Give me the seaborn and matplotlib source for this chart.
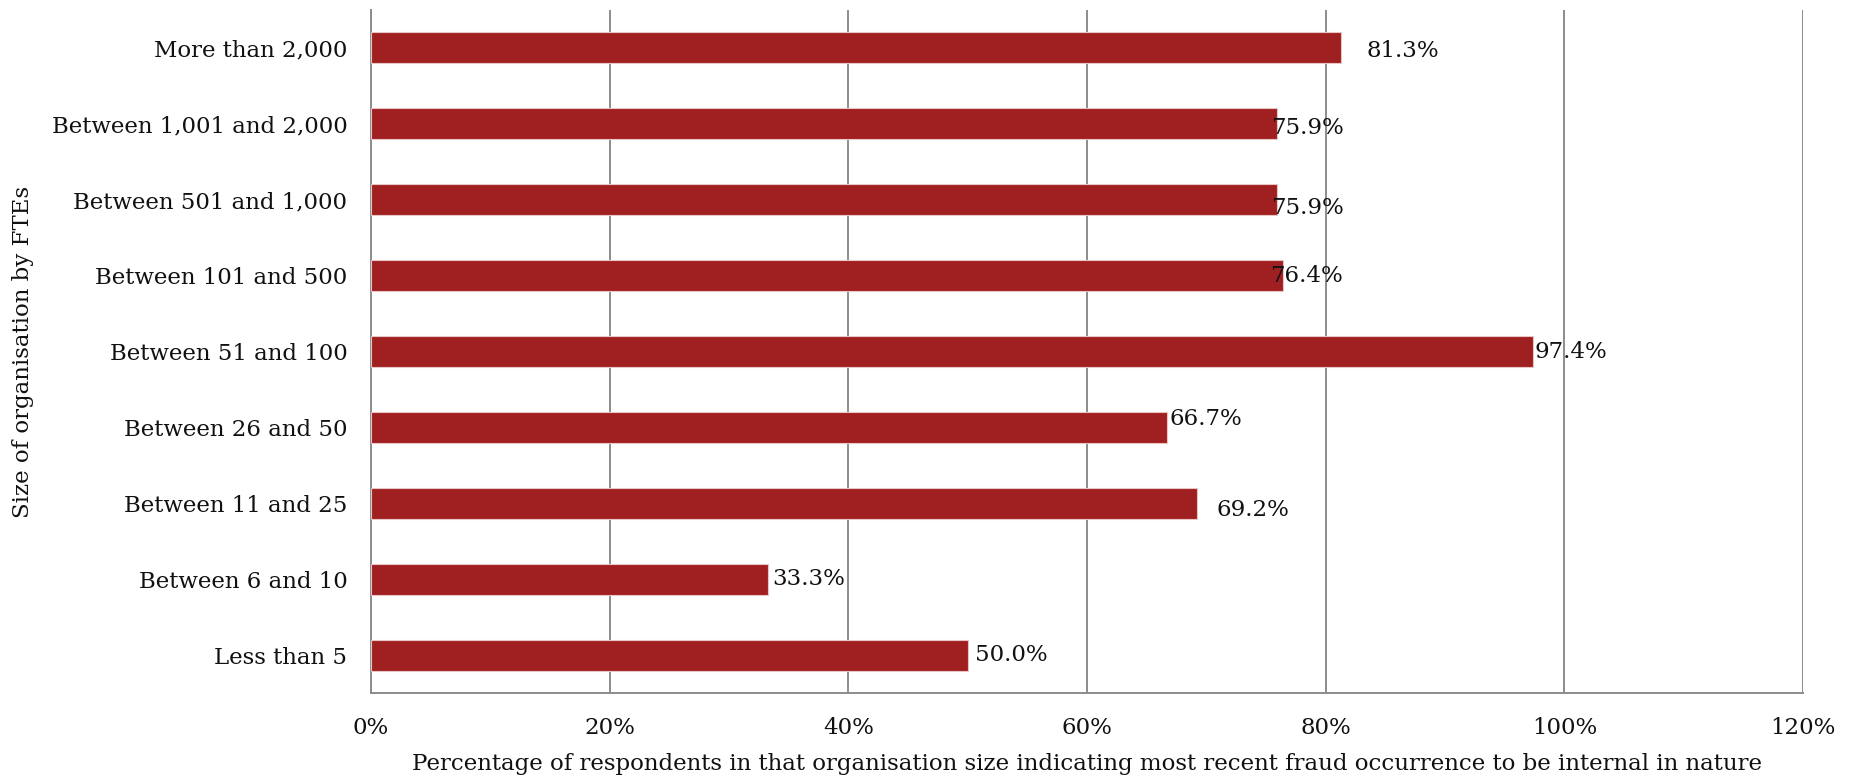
import matplotlib
matplotlib.use("Agg")
import matplotlib.pyplot as plt
import seaborn as sns
import pandas as pd
import numpy as np
from matplotlib.ticker import FixedLocator, PercentFormatter

# Organisation size bands (top to bottom) and share of respondents reporting internal fraud
sizes = [
    "More than 2,000",
    "Between 1,001 and 2,000",
    "Between 501 and 1,000",
    "Between 101 and 500",
    "Between 51 and 100",
    "Between 26 and 50",
    "Between 11 and 25",
    "Between 6 and 10",
    "Less than 5",
]
internal_pct = [81.3, 75.9, 75.9, 76.4, 97.4, 66.7, 69.2, 33.3, 50.0]
x_ticks = [0, 20, 40, 60, 80, 100, 120]

# Label offsets (points) from each bar end
label_offsets = [(18, -2), (-4, -3), (-4, -6), (-9, 0), (1, 0), (2, 6), (14, -5), (3, 0), (5, 0)]

df = pd.DataFrame({"size": sizes, "pct": internal_pct})

sns.set_style("white")
plt.rcParams["font.family"] = ["DejaVu Serif"]

fig = plt.figure(figsize=(18.52, 7.8), dpi=100)
ax = fig.add_axes([0.2003, 0.1115, 0.7733, 0.8757])

bar_color = "#A02022"
sns.barplot(data=df, x="pct", y="size", orient="h", color=bar_color,
            width=0.41, saturation=1, ax=ax, edgecolor="#e9c4c4", linewidth=0.8,
            zorder=3)

ax.set_xlim(0, 120)
ax.set_ylim(len(sizes) - 0.5, -0.5)
ax.xaxis.set_major_locator(FixedLocator(x_ticks))
ax.xaxis.set_major_formatter(PercentFormatter(decimals=0))

grid_color = "#8c8c8c"
ax.grid(axis="x", color=grid_color, linewidth=1.4, zorder=0)
ax.grid(axis="y", visible=False)
ax.set_axisbelow(True)

for s in ["top", "right"]:
    ax.spines[s].set_visible(False)
for s in ["left", "bottom"]:
    ax.spines[s].set_color(grid_color)
    ax.spines[s].set_linewidth(1.4)

label_size = 16.5

# category separators on the y axis as outward ticks
ax.yaxis.set_minor_locator(FixedLocator(np.arange(-0.5, len(sizes), 1.0)))
ax.tick_params(axis="y", which="major", length=0, pad=17, labelsize=label_size,
               labelcolor="#111111")
ax.tick_params(axis="y", which="minor", length=6, width=1.4, color=grid_color, direction="out")
ax.tick_params(axis="x", which="major", length=5, width=1.4, color=grid_color,
               direction="out", pad=12, labelsize=label_size, labelcolor="#111111")

ax.set_ylabel("Size of organisation by FTEs", fontsize=label_size, labelpad=13,
              color="#111111")
ax.set_xlabel("Percentage of respondents in that organisation size indicating most recent fraud "
              "occurrence to be internal in nature", fontsize=label_size, labelpad=10,
              color="#111111")

for i, (v, off) in enumerate(zip(internal_pct, label_offsets)):
    ax.annotate(f"{v:.1f}%", xy=(v, i), xytext=off, textcoords="offset points",
                ha="left", va="center", fontsize=16.5, color="#111111", zorder=4)

fig.savefig("out.png", dpi=100)
